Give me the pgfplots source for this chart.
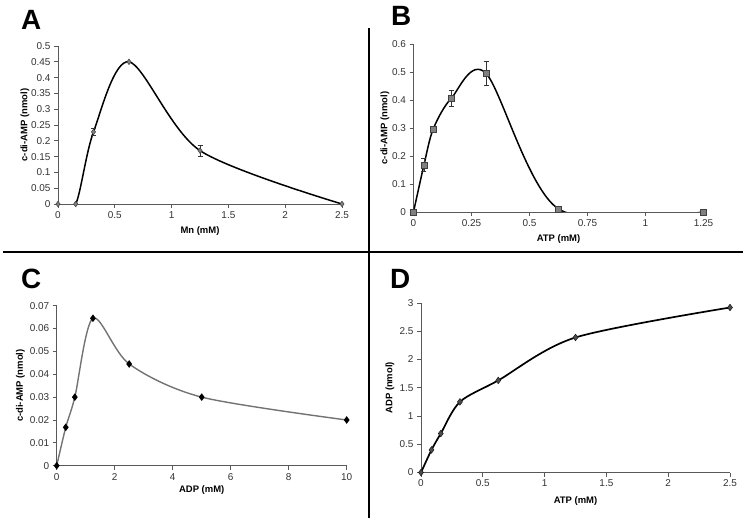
\documentclass[border=0pt]{standalone}
\usepackage{pgfplots}
\pgfplotsset{compat=1.18}
\usepackage{fontspec}
\setmainfont{Liberation Sans}
\pgfplotsset{
 panel/.style={scale only axis, anchor=south west,
   axis lines=left, axis line style={-, black!65, line width=0.8bp},
   tick align=outside, major tick length=4bp,
   tick style={black!65, line width=0.8bp},
   ticklabel style={font=\fontsize{10}{11}\selectfont, text=black!80},
   /pgf/number format/assume math mode=true,
   scaled ticks=false,
   /pgf/number format/fixed, /pgf/number format/precision=2,
   minor tick num=0},
 ebar/.style={error bars/.cd, y dir=both, y explicit,
   error bar style={black!80, line width=0.7bp},
   error mark options={rotate=90, mark size=2.5bp, line width=0.7bp, black!80}}
}
\begin{document}
\begin{tikzpicture}[x=1bp,y=1bp]
\path[use as bounding box] (0bp,0bp) rectangle (747bp,523bp);
% dividers
\draw[line width=2.5bp] (3bp,271bp) -- (743bp,271bp);
\draw[line width=2.5bp] (369bp,495bp) -- (369bp,5bp);
% panel letters
\node[anchor=base west, inner sep=0, font=\fontsize{28}{28}\selectfont\bfseries] at (21bp,493bp) {A};
\node[anchor=base west, inner sep=0, font=\fontsize{28}{28}\selectfont\bfseries] at (391bp,497bp) {B};
\node[anchor=base west, inner sep=0, font=\fontsize{28}{28}\selectfont\bfseries] at (21bp,234bp) {C};
\node[anchor=base west, inner sep=0, font=\fontsize{28}{28}\selectfont\bfseries] at (390bp,234bp) {D};

% Panel A
\begin{axis}[panel, at={(58bp,319bp)}, width=284bp, height=158bp,
  xmin=0, xmax=2.5, ymin=0, ymax=0.5,
  xtick={0,0.5,1,1.5,2,2.5},
  ytick={0,0.05,0.1,0.15,0.2,0.25,0.3,0.35,0.4,0.45,0.5}]
\addplot[black, line width=1.5bp, smooth, mark=diamond*, mark size=2.8bp,
  mark options={fill=black!50, draw=black!75, line width=0.5bp}, ebar]
  coordinates {(0,0) (0.156,0) (0.3125,0.228) +- (0,0.012) (0.625,0.45) (1.25,0.169) +- (0,0.018) (2.5,0)};
\end{axis}
\node[font=\fontsize{9.5}{10}\selectfont\bfseries] at (200bp,292bp) {Mn (mM)};
\node[rotate=90, font=\fontsize{9.5}{10}\selectfont\bfseries] at (25bp,398bp) {c-di-AMP (nmol)};

% Panel B
\begin{axis}[panel, at={(413.5bp,311bp)}, width=290bp, height=167.7bp,
  xmin=0, xmax=1.25, ymin=0, ymax=0.6,
  xtick={0,0.25,0.5,0.75,1,1.25},
  ytick={0,0.1,0.2,0.3,0.4,0.5,0.6}]
\addplot[black, line width=1.5bp, smooth, mark=square*, mark size=3bp,
  mark options={fill=black!50, draw=black!75, line width=0.5bp}, ebar]
  coordinates {(0,0) (0.045,0.168) +- (0,0.024) (0.085,0.297) (0.163,0.407) +- (0,0.029) (0.3125,0.496) +- (0,0.044) (0.625,0.011) (1.25,0)};
\end{axis}
\node[font=\fontsize{9.5}{10}\selectfont\bfseries] at (558.5bp,284bp) {ATP (mM)};
\node[rotate=90, font=\fontsize{9.5}{10}\selectfont\bfseries] at (385bp,395bp) {c-di-AMP (nmol)};

% Panel C
\begin{axis}[panel, at={(56.7bp,57.3bp)}, width=290bp, height=160bp,
  xmin=0, xmax=10, ymin=0, ymax=0.07,
  xtick={0,2,4,6,8,10},
  ytick={0,0.01,0.02,0.03,0.04,0.05,0.06,0.07}]
\addplot[black!55, line width=1.4bp, smooth, mark=diamond*, mark size=2.7bp,
  mark options={fill=black, draw=black}]
  coordinates {(0,0) (0.3125,0.0168) (0.625,0.03) (1.25,0.0645) (2.5,0.0445) (5,0.03) (10,0.02)};
\end{axis}
\node[font=\fontsize{9.5}{10}\selectfont\bfseries] at (201.7bp,33bp) {ADP (mM)};
\node[rotate=90, font=\fontsize{9.5}{10}\selectfont\bfseries] at (20.5bp,137.3bp) {c-di-AMP (nmol)};

% Panel D
\begin{axis}[panel, at={(421bp,50.5bp)}, width=309bp, height=169.5bp,
  xmin=0, xmax=2.5, ymin=0, ymax=3,
  xtick={0,0.5,1,1.5,2,2.5},
  ytick={0,0.5,1,1.5,2,2.5,3}]
\addplot[black, line width=1.7bp, smooth, mark=diamond*, mark size=3.3bp,
  mark options={fill=black!70, draw=black!90, line width=0.5bp}]
  coordinates {(0,0) (0.085,0.4) (0.16,0.69) (0.315,1.25) (0.625,1.63) (1.25,2.39) (2.5,2.92)};
\end{axis}
\node[font=\fontsize{9.5}{10}\selectfont\bfseries] at (575.5bp,22.3bp) {ATP (mM)};
\node[rotate=90, font=\fontsize{9.5}{10}\selectfont\bfseries] at (390bp,135.2bp) {ADP (nmol)};
\end{tikzpicture}
\end{document}
